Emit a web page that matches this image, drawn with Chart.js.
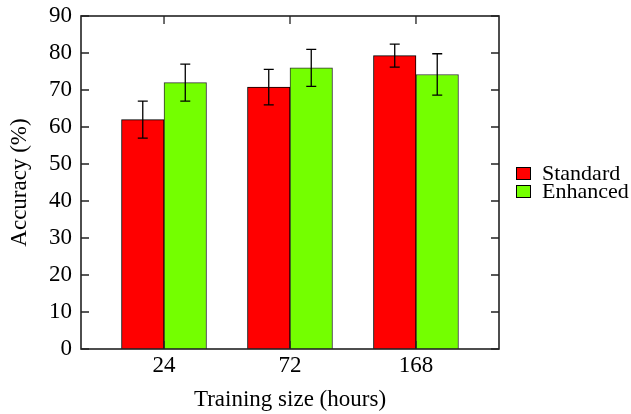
<!DOCTYPE html>
<html>
<head>
<meta charset="utf-8">
<script src="https://cdn.jsdelivr.net/npm/chart.js@4"></script>
<style>
  html, body { margin: 0; padding: 0; background: #fff; }
  #wrap { width: 631px; height: 414px; }
</style>
</head>
<body>
<div id="wrap"><canvas id="grafico"></canvas></div>
<script>
// datos
const tamaños = ["24", "72", "168"];
const standard = [62, 70.8, 79.3];
const standard_err = [5, 4.8, 3.1];
const enhanced = [72, 76, 74.2];
const enhanced_err = [5, 5, 5.6];
const y_ticks = [0, 10, 20, 30, 40, 50, 60, 70, 80, 90];

const fuente = "'Liberation Serif', 'Times New Roman', serif";
const tam_fuente = 23;

function puntos(valores) {
  let out = [];
  for (let i = 0; i < valores.length; i++) {
    out.push({ x: i, y: valores[i] });
  }
  return out;
}

// barras de error
const errorBars = {
  id: 'errorBars',
  afterDatasetsDraw(chart) {
    const ctx = chart.ctx;
    const y = chart.scales.y;
    ctx.save();
    ctx.strokeStyle = '#000';
    ctx.lineWidth = 1.3;
    chart.data.datasets.forEach((ds, d) => {
      const meta = chart.getDatasetMeta(d);
      meta.data.forEach((bar, i) => {
        const v = ds.data[i].y;
        const e = ds.errores[i];
        const y1 = y.getPixelForValue(v + e);
        const y2 = y.getPixelForValue(v - e);
        ctx.beginPath();
        ctx.moveTo(bar.x, y1); ctx.lineTo(bar.x, y2);
        ctx.moveTo(bar.x - 5, y1); ctx.lineTo(bar.x + 5, y1);
        ctx.moveTo(bar.x - 5, y2); ctx.lineTo(bar.x + 5, y2);
        ctx.stroke();
      });
    });
    ctx.restore();
  }
};

// marco con ticks hacia adentro
const marco = {
  id: 'marco',
  afterDraw(chart) {
    const ctx = chart.ctx;
    const a = chart.chartArea;
    const x = chart.scales.x;
    const y = chart.scales.y;
    ctx.save();
    ctx.strokeStyle = '#222';
    ctx.lineWidth = 1.3;
    ctx.beginPath();
    y.ticks.forEach(t => {
      const py = y.getPixelForValue(t.value);
      ctx.moveTo(a.left, py); ctx.lineTo(a.left + 8, py);
      ctx.moveTo(a.right, py); ctx.lineTo(a.right - 8, py);
    });
    x.ticks.forEach(t => {
      const px = x.getPixelForValue(t.value);
      ctx.moveTo(px, a.top); ctx.lineTo(px, a.top + 8);
      ctx.moveTo(px, a.bottom); ctx.lineTo(px, a.bottom - 8);
    });
    ctx.stroke();
    ctx.lineWidth = 1.6;
    ctx.strokeRect(a.left, a.top, a.right - a.left, a.bottom - a.top);
    ctx.restore();
  }
};

// leyenda a la derecha, estilo gnuplot (renglones juntos)
const leyenda = {
  id: 'leyenda',
  afterDraw(chart) {
    const ctx = chart.ctx;
    const a = chart.chartArea;
    const sets = chart.data.datasets;
    const paso = 18;
    const cy = (a.top + a.bottom) / 2 - paso * (sets.length - 1) / 2;
    const bx = a.right + 17;
    ctx.save();
    ctx.font = '22px ' + fuente;
    ctx.textBaseline = 'middle';
    ctx.fillStyle = '#000';
    sets.forEach((ds, i) => {
      const yy = cy + i * paso;
      ctx.fillStyle = ds.backgroundColor;
      ctx.fillRect(bx, yy - 6.5, 15, 13);
      ctx.strokeStyle = '#000';
      ctx.lineWidth = 1;
      ctx.strokeRect(bx + 0.5, yy - 6, 14, 12);
      ctx.fillStyle = '#000';
      ctx.fillText(ds.label, bx + 26, yy + 1);
    });
    ctx.restore();
  }
};

const ctx = document.getElementById("grafico");

let grafico = new Chart(ctx, {
  type: "bar",
  data: {
    datasets: [
      {
        label: "Standard",
        data: puntos(standard),
        errores: standard_err,
        backgroundColor: "#ff0000",
        borderColor: "#000",
        borderWidth: 1,
        barThickness: 42.5
      },
      {
        label: "Enhanced",
        data: puntos(enhanced),
        errores: enhanced_err,
        backgroundColor: "#74ff00",
        borderColor: "#333",
        borderWidth: 1,
        barThickness: 42.5
      }
    ]
  },
  options: {
    responsive: true,
    maintainAspectRatio: false,
    animation: false,
    devicePixelRatio: 1,
    layout: { padding: { left: 0, right: 132, top: 16, bottom: 0 } },
    plugins: {
      legend: { display: false },
      tooltip: { enabled: false }
    },
    scales: {
      x: {
        type: 'linear',
        offset: false,
        min: -0.659,
        max: 2.659,
        grid: { display: false, drawTicks: false, offset: false },
        border: { display: false },
        afterBuildTicks: (scale) => {
          scale.ticks = tamaños.map((t, i) => ({ value: i }));
        },
        afterFit: (scale) => {
          scale.height = 65;
          scale.paddingLeft = 0;
          scale.paddingRight = 0;
        },
        ticks: {
          padding: 3,
          color: '#000',
          font: { family: fuente, size: tam_fuente },
          callback: (v) => tamaños[v]
        },
        title: {
          display: true,
          text: 'Training size (hours)',
          color: '#000',
          font: { family: fuente, size: tam_fuente },
          padding: { top: 0, bottom: 0 }
        }
      },
      y: {
        min: 0,
        max: 90,
        grid: { display: false, drawTicks: false },
        border: { display: false },
        afterBuildTicks: (scale) => {
          scale.ticks = y_ticks.map(v => ({ value: v }));
        },
        afterFit: (scale) => {
          scale.width = 81;
          scale.paddingTop = 0;
          scale.paddingBottom = 0;
        },
        ticks: {
          padding: 9,
          color: '#000',
          font: { family: fuente, size: tam_fuente }
        },
        title: {
          display: true,
          text: 'Accuracy (%)',
          color: '#000',
          font: { family: fuente, size: tam_fuente },
          padding: { top: 6, bottom: 0 }
        }
      }
    }
  },
  plugins: [errorBars, marco, leyenda]
});
</script>
</body>
</html>
